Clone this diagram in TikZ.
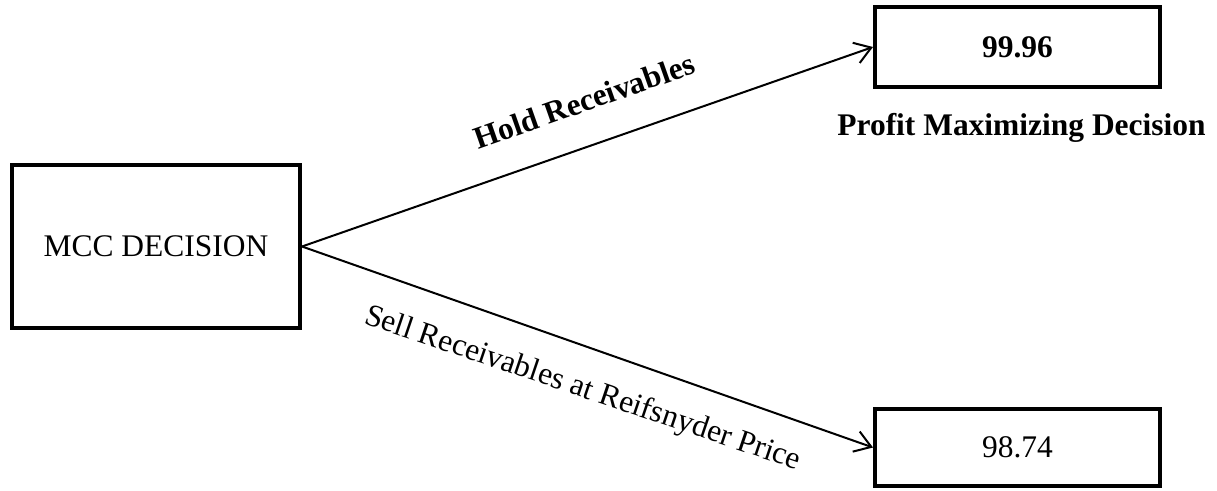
\documentclass[tikz,border=0pt]{standalone}
\usepackage{fontspec}
\setmainfont{Liberation Serif}
\usetikzlibrary{arrows.meta}
\begin{document}
\begin{tikzpicture}[x=0.75pt,y=-0.75pt,
  every node/.style={font=\fontsize{23.6}{28}\selectfont},
  box/.style={draw=black,line width=3pt,inner sep=0pt,align=center},
  conn/.style={line width=1.5pt,-{Straight Barb[length=12pt,width=16pt,line width=1.5pt]}},
  lbl/.style={anchor=base,inner sep=0pt}]
\useasboundingbox (0,0) rectangle (1217,490);
\node[box,minimum width=216pt,minimum height=122.25pt] (mcc) at (156,246.5) {MCC DECISION};
\node[box,minimum width=213.75pt,minimum height=60pt,font=\fontsize{23.6}{28}\selectfont\bfseries] (hold) at (1017.5,47) {99.96};
\node[box,minimum width=213.75pt,minimum height=58pt] (sell) at (1017.5,447.5) {98.74};
\draw[conn] (mcc.east) -- (hold.west);
\draw[conn] (mcc.east) -- (sell.west);
\node[lbl,rotate=19.4,font=\fontsize{23.6}{28}\selectfont\bfseries] (holdlbl) at (588,111) {Hold Receivables};
\node[lbl,rotate=-18.7] (selllbl) at (580,396.5) {Sell Receivables at Reifsnyder Price};
\node[lbl,font=\fontsize{23.6}{28}\selectfont\bfseries] (profit) at (1021.5,135) {Profit Maximizing Decision};
\end{tikzpicture}
\end{document}
